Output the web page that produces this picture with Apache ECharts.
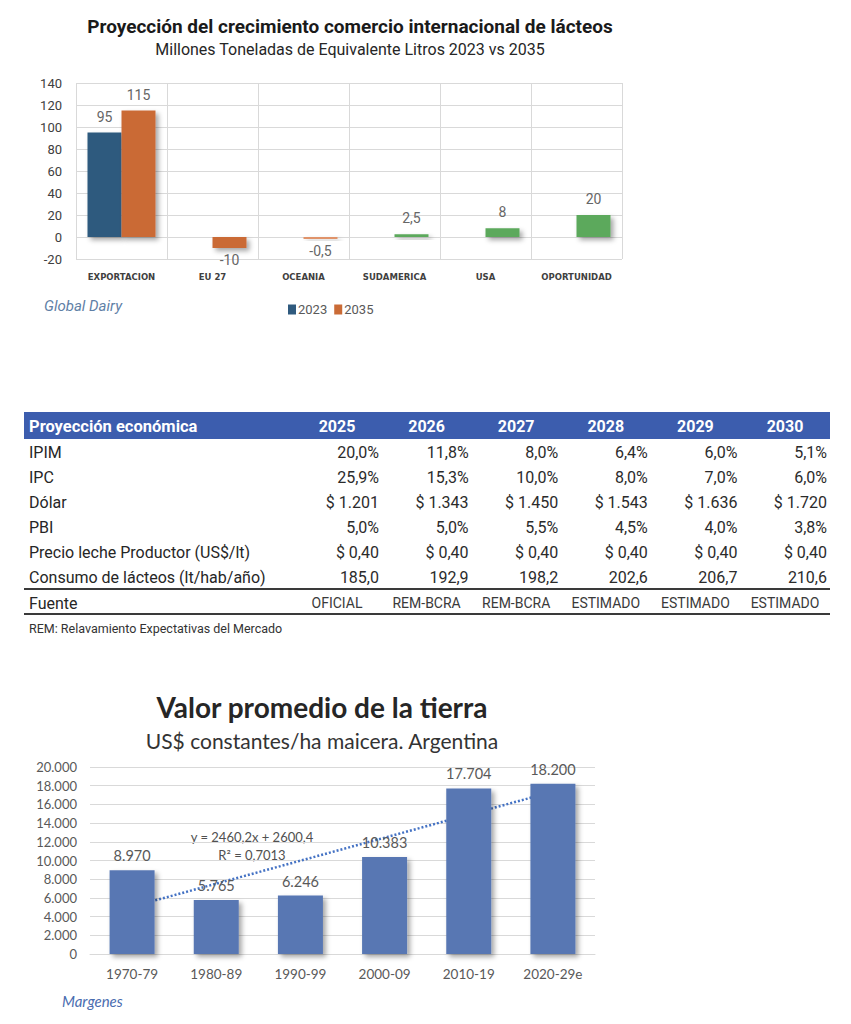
<!DOCTYPE html>
<html><head><meta charset="utf-8">
<script src="https://cdn.jsdelivr.net/npm/echarts@6/dist/echarts.min.js"></script>
<style>html,body{margin:0;padding:0;background:#fff}#c{width:851px;height:1024px}</style>
</head><body><div id="c"></div>
<script>
// ---------- Data: chart 1 ----------
const tradeCategories = ['EXPORTACION', 'EU 27', 'OCEANIA', 'SUDAMERICA', 'USA', 'OPORTUNIDAD'];
const trade2023 = [95, '-', '-', '-', '-', '-'];
const trade2035 = [115, -10, -0.5, 2.5, 8, 20];
const tradeSeriesNames = ['2023', '2035'];

// ---------- Data: table ----------
const tableTitle = 'Proyección económica';
const tableYears = ['2025', '2026', '2027', '2028', '2029', '2030'];
const rowLabels = ['IPIM', 'IPC', 'Dólar', 'PBI', 'Precio leche Productor (US$/lt)', 'Consumo de lácteos (lt/hab/año)'];
const rowIPIM = ['20,0%', '11,8%', '8,0%', '6,4%', '6,0%', '5,1%'];
const rowIPC = ['25,9%', '15,3%', '10,0%', '8,0%', '7,0%', '6,0%'];
const rowDolar = ['$ 1.201', '$ 1.343', '$ 1.450', '$ 1.543', '$ 1.636', '$ 1.720'];
const rowPBI = ['5,0%', '5,0%', '5,5%', '4,5%', '4,0%', '3,8%'];
const rowPrecio = ['$ 0,40', '$ 0,40', '$ 0,40', '$ 0,40', '$ 0,40', '$ 0,40'];
const rowConsumo = ['185,0', '192,9', '198,2', '202,6', '206,7', '210,6'];
const fuenteLabel = 'Fuente';
const rowFuente = ['OFICIAL', 'REM-BCRA', 'REM-BCRA', 'ESTIMADO', 'ESTIMADO', 'ESTIMADO'];
const tableNote = 'REM: Relavamiento Expectativas del Mercado';

// ---------- Data: chart 3 ----------
const landCategories = ['1970-79', '1980-89', '1990-99', '2000-09', '2010-19', '2020-29e'];
const landValues = [8970, 5765, 6246, 10383, 17704, 18200];
const trendEnds = [5060.6, 17361.6]; // y = 2460,2x + 2600,4 at x=1 and x=6
const trendText = ['y = 2460,2x + 2600,4', 'R² = 0,7013'];

// ---------- Styles ----------
const C_BLUE = '#2F5A7E', C_ORANGE = '#CA6B36', C_GREEN = '#5BA95B';
const barColors2035 = [C_ORANGE, C_ORANGE, '#E0936A', C_GREEN, C_GREEN, C_GREEN];
const shadow = { shadowColor: 'rgba(0,0,0,0.35)', shadowBlur: 5, shadowOffsetX: 3, shadowOffsetY: 3 };
const F1 = 'Roboto', F3 = 'Lato';

const dotThousands = v => String(v).replace(/\B(?=(\d{3})+(?!\d))/g, '.');
const commaDec = v => String(v).replace('.', ',');

// ---------- Graphic elements ----------
const g = [];
function txt(x, y, text, o) {
  g.push({ type: 'text', silent: true, style: Object.assign({
    x, y, text, fill: '#262626', fontFamily: F1, fontSize: 14,
    align: 'left', textAlign: 'left', verticalAlign: 'middle', textVerticalAlign: 'middle'
  }, o || {}) });
}
function al(o, a) { return Object.assign({ align: a, textAlign: a }, o); }

// chart 1 titles
txt(350, 26, 'Proyección del crecimiento comercio internacional de lácteos', al({ fontWeight: 'bold', fontSize: 19, fill: '#1a1a1a' }, 'center'));
txt(350, 49, 'Millones Toneladas de Equivalente Litros 2023 vs 2035', al({ fontSize: 16, fill: '#262626' }, 'center'));
txt(44, 306, 'Global Dairy', { fontStyle: 'italic', fontSize: 15, fill: '#5F7FA6' });

// table
g.push({ type: 'rect', silent: true, shape: { x: 24, y: 412, width: 806, height: 27 }, style: { fill: '#3C5DAE' } });
txt(29, 426, tableTitle, { fontWeight: 'bold', fontSize: 16.5, fill: '#fff' });
const colRight = i => 379 + i * 89.6;
const colCenter = i => colRight(i) - 42;
tableYears.forEach((y, i) => txt(colCenter(i), 426, y, al({ fontWeight: 'bold', fontSize: 16, fill: '#fff' }, 'center')));
const rows = [rowIPIM, rowIPC, rowDolar, rowPBI, rowPrecio, rowConsumo];
rowLabels.forEach((lab, r) => {
  const y = 452 + r * 25.1;
  txt(29, y, lab, { fontSize: 16, fill: '#262626' });
  rows[r].forEach((v, i) => txt(colRight(i), y, v, al({ fontSize: 16, fill: '#2b2b2b' }, 'right')));
});
g.push({ type: 'line', silent: true, shape: { x1: 24, y1: 589, x2: 830, y2: 589 }, style: { stroke: '#3a3a3a', lineWidth: 2 } });
txt(29, 603, fuenteLabel, { fontSize: 16, fill: '#262626' });
rowFuente.forEach((v, i) => txt(colCenter(i), 603, v, al({ fontSize: 14, fill: '#3a3a3a' }, 'center')));
g.push({ type: 'line', silent: true, shape: { x1: 24, y1: 614, x2: 830, y2: 614 }, style: { stroke: '#3a3a3a', lineWidth: 2 } });
txt(29, 628, tableNote, { fontSize: 12.5, fill: '#333' });

// chart 3 titles
txt(322, 707, 'Valor promedio de la tierra', al({ fontFamily: F3, fontWeight: 'bold', fontSize: 28, fill: '#262626' }, 'center'));
txt(322, 740, 'US$ constantes/ha maicera. Argentina', al({ fontFamily: F3, fontSize: 21, fill: '#333' }, 'center'));
txt(252, 837, trendText[0], al({ fontFamily: F3, fontSize: 13, fill: '#505050' }, 'center'));
txt(252, 855, trendText[1], al({ fontFamily: F3, fontSize: 13, fill: '#505050' }, 'center'));
txt(62, 1001, 'Margenes', { fontFamily: F3, fontStyle: 'italic', fontSize: 15, fill: '#4A6DB0' });

// ---------- Chart ----------
const chart = echarts.init(document.getElementById('c'), null, { renderer: 'svg', width: 851, height: 1024 });
const gridLine = { show: true, interval: 0, lineStyle: { color: '#d9d9d9', width: 1 } };

chart.setOption({
  animation: false,
  backgroundColor: '#fff',
  grid: [
    { left: 76, top: 83, width: 546, height: 176 },
    { left: 90, top: 767, width: 505, height: 187 }
  ],
  legend: {
    data: tradeSeriesNames, left: 283, top: 298, icon: 'rect', itemWidth: 8, itemHeight: 10, itemGap: 7,
    textStyle: { fontFamily: F1, fontSize: 13, color: '#595959', padding: [0, 0, 0, -3] }
  },
  xAxis: [
    {
      type: 'category', gridIndex: 0, data: tradeCategories,
      axisLine: { show: false, onZero: false }, axisTick: { show: false, interval: 0 }, splitLine: gridLine,
      axisLabel: { interval: 0, margin: 13, fontFamily: 'DejaVu Sans', fontWeight: 'bold', fontSize: 8.5, color: '#404040' }
    },
    {
      type: 'category', gridIndex: 1, data: landCategories,
      axisLine: { show: true, lineStyle: { color: '#d9d9d9' } }, axisTick: { show: false },
      axisLabel: { interval: 0, margin: 13, fontFamily: F3, fontSize: 13.5, color: '#595959' }
    }
  ],
  yAxis: [
    {
      type: 'value', gridIndex: 0, min: -20, max: 140, interval: 20,
      axisLine: { show: false }, axisTick: { show: false }, splitLine: gridLine,
      axisLabel: { margin: 14, fontFamily: F1, fontSize: 13, color: '#404040' }
    },
    {
      type: 'value', gridIndex: 1, min: 0, max: 20000, interval: 2000,
      axisLine: { show: false }, axisTick: { show: false }, splitLine: { show: true, lineStyle: { color: '#d9d9d9' } },
      axisLabel: { margin: 13, fontFamily: F3, fontSize: 13, color: '#595959', formatter: dotThousands }
    }
  ],
  series: [
    {
      name: tradeSeriesNames[0], type: 'bar', xAxisIndex: 0, yAxisIndex: 0, data: trade2023,
      barWidth: 34, barGap: '0%', itemStyle: Object.assign({ color: C_BLUE }, shadow),
      label: { show: true, position: 'top', distance: 9, fontFamily: F1, fontSize: 14, color: '#666', formatter: p => commaDec(p.value) }
    },
    {
      name: tradeSeriesNames[1], type: 'bar', xAxisIndex: 0, yAxisIndex: 0, barWidth: 34, barGap: '0%', barMinHeight: 2,
      itemStyle: Object.assign({ color: C_ORANGE }, shadow),
      data: trade2035.map((v, i) => ({
        value: v,
        itemStyle: { color: barColors2035[i] },
        label: { position: v < 0 ? 'bottom' : 'top', distance: v < 0 ? 5 : 9 }
      })),
      label: { show: true, fontFamily: F1, fontSize: 14, color: '#666', formatter: p => commaDec(p.value) }
    },
    {
      name: 'tendencia', type: 'line', xAxisIndex: 1, yAxisIndex: 1, z: 1, connectNulls: true,
      symbol: 'none', lineStyle: { type: [2, 2], width: 2.5, color: '#4472C4' },
      data: landCategories.map((c, i) => i === 0 ? trendEnds[0] : (i === landCategories.length - 1 ? trendEnds[1] : '-'))
    },
    {
      name: 'valor', type: 'bar', xAxisIndex: 1, yAxisIndex: 1, z: 3, data: landValues, barWidth: 45,
      itemStyle: Object.assign({ color: '#5877B3' }, shadow),
      label: { show: true, position: 'top', distance: 7, fontFamily: F3, fontSize: 14.5, color: '#595959', formatter: p => dotThousands(p.value) }
    }
  ],
  graphic: g
});
</script></body></html>
